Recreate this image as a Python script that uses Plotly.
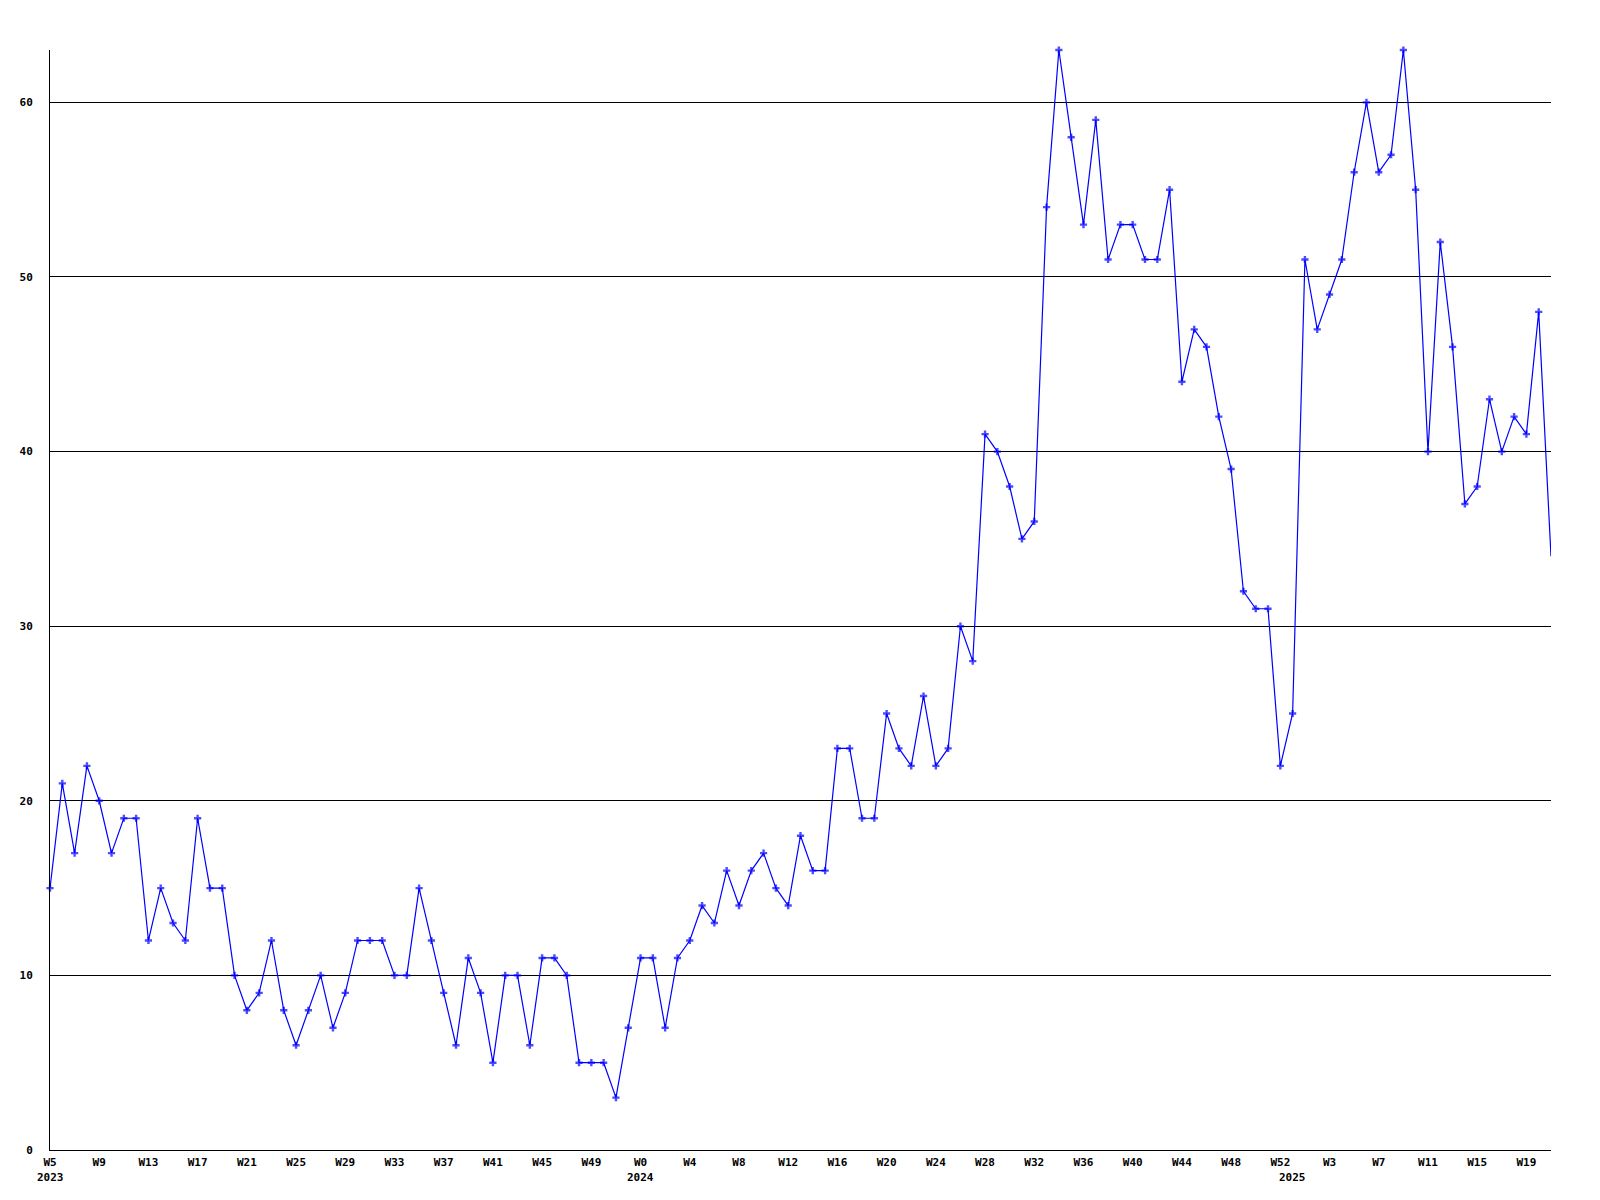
import plotly.graph_objects as go

# ---- data ----
weeks_2023 = list(range(5, 53))      # W5 .. W52
weeks_2024 = list(range(0, 53))      # W0 .. W52
weeks_2025 = list(range(0, 22))      # W0 .. W21

values_2023 = [15, 21, 17, 22, 20, 17, 19, 19, 12, 15, 13, 12, 19, 15, 15, 10,
               8, 9, 12, 8, 6, 8, 10, 7, 9, 12, 12, 12, 10, 10, 15, 12,
               9, 6, 11, 9, 5, 10, 10, 6, 11, 11, 10, 5, 5, 5, 3, 7]
values_2024 = [11, 11, 7, 11, 12, 14, 13, 16, 14, 16, 17, 15, 14, 18, 16, 16,
               23, 23, 19, 19, 25, 23, 22, 26, 22, 23, 30, 28, 41, 40, 38, 35,
               36, 54, 63, 58, 53, 59, 51, 53, 53, 51, 51, 55, 44, 47, 46, 42,
               39, 32, 31, 31, 22]
values_2025 = [25, 51, 47, 49, 51, 56, 60, 56, 57, 63, 55, 40, 52, 46, 37, 38,
               43, 40, 42, 41, 48, 34]

y_ticks = [0, 10, 20, 30, 40, 50, 60]

# ---- build ----
cats, vals, week_of, year_first = [], [], [], []
for yr, wks, vs in ((2023, weeks_2023, values_2023),
                    (2024, weeks_2024, values_2024),
                    (2025, weeks_2025, values_2025)):
    for j, (w, v) in enumerate(zip(wks, vs)):
        c = f"{yr}-W{w}"
        cats.append(c)
        vals.append(v)
        week_of.append(w)
        if j == 0:
            year_first.append((c, str(yr)))

tick_idx = list(range(0, len(cats), 4))
tickvals = [cats[i] for i in tick_idx]
ticktext = [f"W{week_of[i]}" for i in tick_idx]

font = dict(family="DejaVu Sans Mono", size=11, color="black", weight="bold")

marker_sizes = [6] * (len(cats) - 1) + [0]

fig = go.Figure()
fig.add_trace(go.Scatter(
    x=cats, y=vals, mode="lines+markers",
    line=dict(color="#0000ff", width=1.2),
    marker=dict(symbol="cross", size=marker_sizes, color="#0000ff",
                line=dict(width=0)),
    cliponaxis=False,
    showlegend=False,
))

for c, label in year_first:
    fig.add_annotation(x=c, xref="x", y=0, yref="paper", yanchor="top",
                       yshift=-19, text=label, showarrow=False, font=font)

fig.update_layout(
    width=1600, height=1200,
    paper_bgcolor="white", plot_bgcolor="white",
    margin=dict(l=42, r=57, t=42, b=58),
    xaxis=dict(type="category", range=[0, len(cats) - 1],
               tickmode="array", tickvals=tickvals, ticktext=ticktext,
               showgrid=False, zeroline=False, showline=True,
               linecolor="black", linewidth=1, ticks="",
               tickfont=font, ticklabelstandoff=2),
    yaxis=dict(range=[0, 63], tickmode="array", tickvals=y_ticks,
               showgrid=True, gridcolor="black", gridwidth=1,
               zeroline=False, showline=True, linecolor="black", linewidth=1,
               ticks="", tickfont=font, ticklabelstandoff=14),
)

fig.write_html("out.html")
